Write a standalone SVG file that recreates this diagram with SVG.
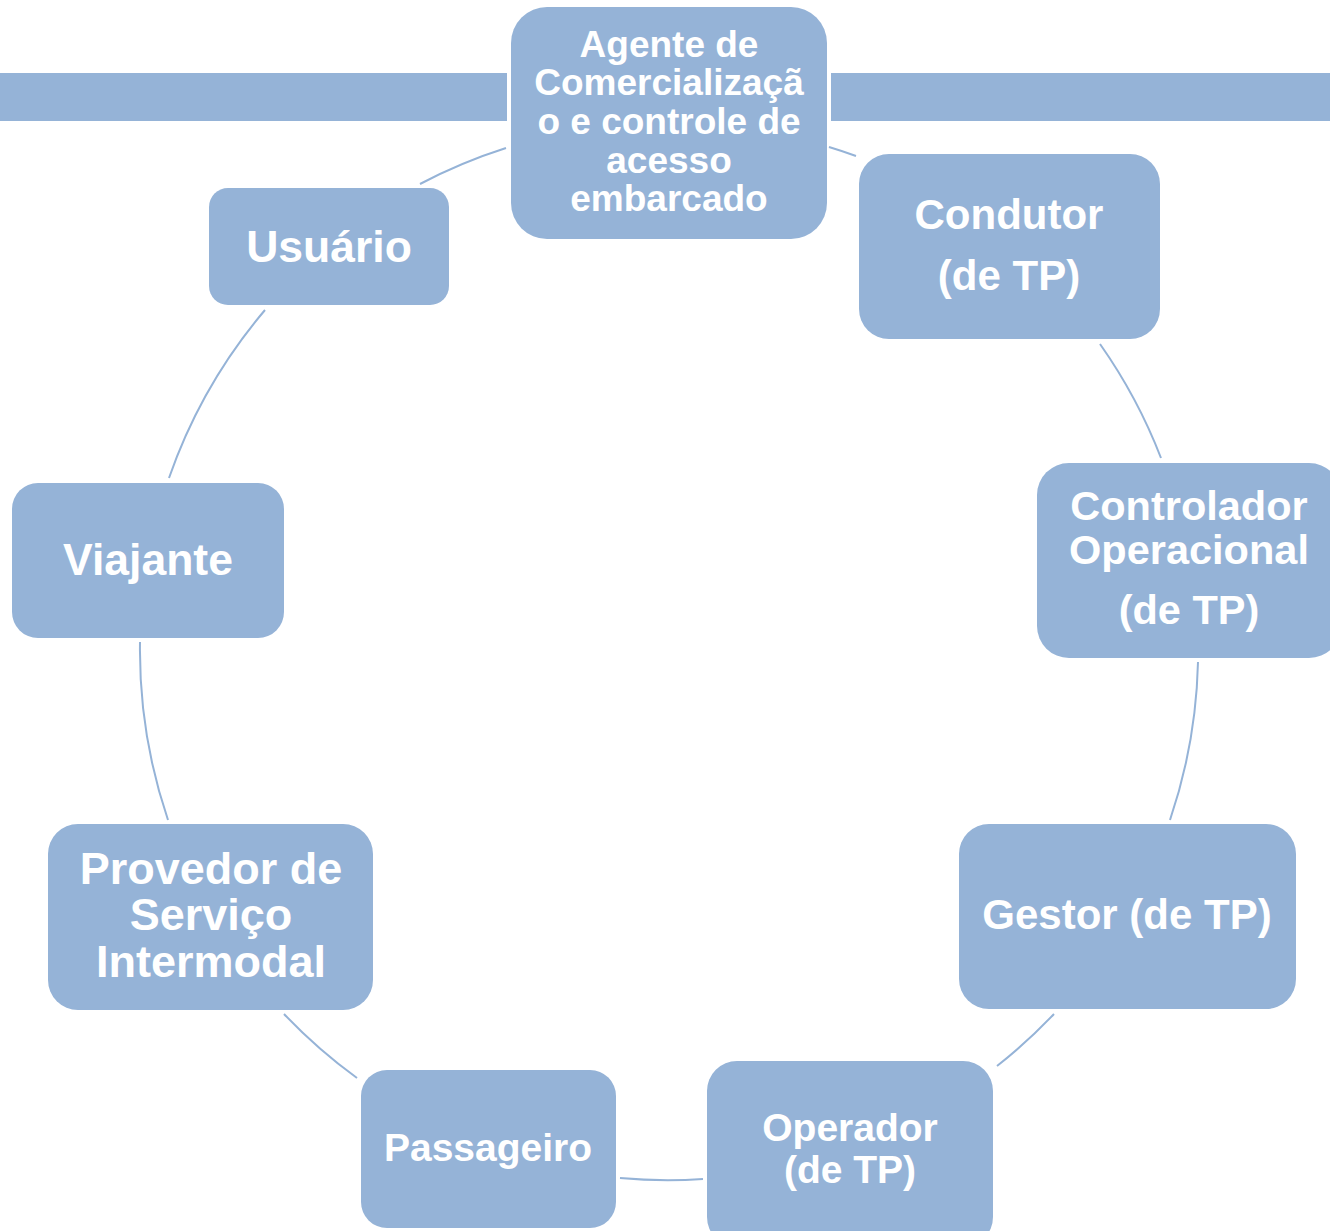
<svg xmlns="http://www.w3.org/2000/svg" width="1330" height="1231" viewBox="0 0 1330 1231">
<style>
.node{fill:#95B3D7;}
.bar{fill:#95B3D7;}
.conn{fill:none;stroke:#95B3D7;stroke-width:2;}
.t{font-family:"Liberation Sans",Arial,sans-serif;font-weight:bold;fill:#FFFFFF;text-anchor:middle;}
</style>
<rect width="1330" height="1231" fill="#FFFFFF"/>
<g id="bars">
<rect class="bar" x="0" y="73" width="507" height="48"/>
<rect class="bar" x="831" y="73" width="499" height="48"/>
</g>
<g id="connectors">
<path class="conn" d="M829,147 A529,529 0 0 1 856,156"/>
<path class="conn" d="M1100,344 A529,529 0 0 1 1161,458"/>
<path class="conn" d="M1198,662 A529,529 0 0 1 1170,820"/>
<path class="conn" d="M1054,1014 A529,529 0 0 1 997,1066"/>
<path class="conn" d="M703,1179 A529,529 0 0 1 620,1178"/>
<path class="conn" d="M357,1078 A529,529 0 0 1 284,1014"/>
<path class="conn" d="M168,820 A529,529 0 0 1 140,642"/>
<path class="conn" d="M169,478 A529,529 0 0 1 265,310"/>
<path class="conn" d="M420,184 A529,529 0 0 1 506,148"/>
</g>
<g id="node-agente">
<rect class="node" x="511" y="7" width="316" height="232" rx="36"/>
<text class="t" font-size="37"><tspan x="669" y="57">Agente de</tspan><tspan x="669" y="95">Comercializaçã</tspan><tspan x="669" y="134">o e controle de</tspan><tspan x="669" y="173">acesso</tspan><tspan x="669" y="211">embarcado</tspan></text>
</g>
<g id="node-condutor">
<rect class="node" x="859" y="154" width="301" height="185" rx="30"/>
<text class="t" font-size="42"><tspan x="1009" y="229">Condutor</tspan><tspan x="1009" y="290">(de TP)</tspan></text>
</g>
<g id="node-controlador">
<rect class="node" x="1037" y="463" width="304" height="195" rx="32"/>
<text class="t" font-size="41.5"><tspan x="1189" y="520">Controlador</tspan><tspan x="1189" y="564">Operacional</tspan><tspan x="1189" y="624">(de TP)</tspan></text>
</g>
<g id="node-gestor">
<rect class="node" x="959" y="824" width="337" height="185" rx="30"/>
<text class="t" font-size="42" x="1127" y="929">Gestor (de TP)</text>
</g>
<g id="node-operador">
<rect class="node" x="707" y="1061" width="286" height="186" rx="30"/>
<text class="t" font-size="39"><tspan x="850" y="1141">Operador</tspan><tspan x="850" y="1183">(de TP)</tspan></text>
</g>
<g id="node-passageiro">
<rect class="node" x="361" y="1070" width="255" height="158" rx="26"/>
<text class="t" font-size="39" x="488" y="1161">Passageiro</text>
</g>
<g id="node-provedor">
<rect class="node" x="48" y="824" width="325" height="186" rx="30"/>
<text class="t" font-size="45"><tspan x="211" y="884">Provedor de</tspan><tspan x="211" y="930">Serviço</tspan><tspan x="211" y="977">Intermodal</tspan></text>
</g>
<g id="node-viajante">
<rect class="node" x="12" y="483" width="272" height="155" rx="26"/>
<text class="t" font-size="44.5" x="148" y="575">Viajante</text>
</g>
<g id="node-usuario">
<rect class="node" x="209" y="188" width="240" height="117" rx="19"/>
<text class="t" font-size="44.5" x="329" y="262">Usuário</text>
</g>
</svg>
